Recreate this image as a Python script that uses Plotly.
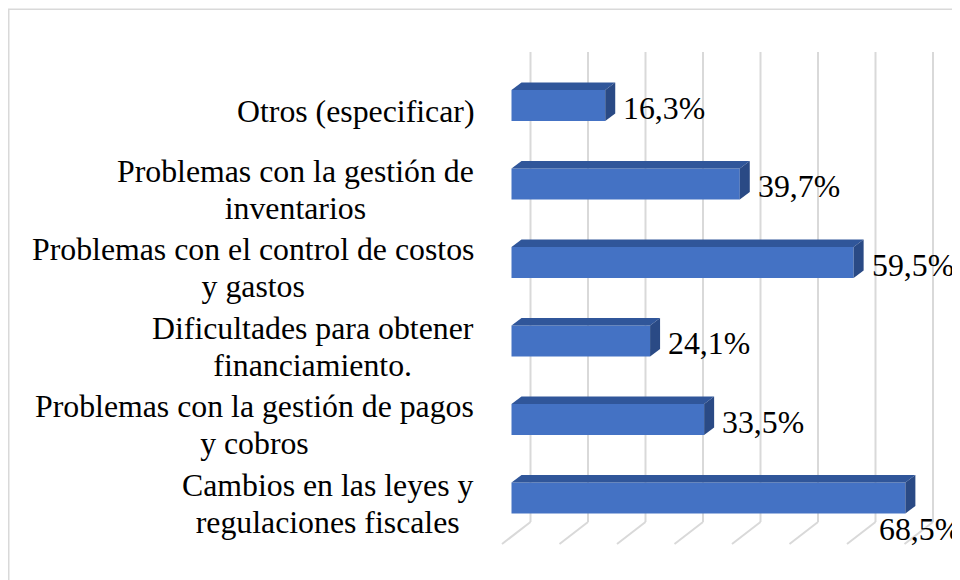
import plotly.graph_objects as go

# ---- data (bottom to top) ----
categories = [
    "Cambios en las leyes y<br>regulaciones fiscales",
    "Problemas con la gestión de pagos<br>y cobros",
    "Dificultades para obtener<br>financiamiento.",
    "Problemas con el control de costos<br>y gastos",
    "Problemas con la gestión de<br>inventarios",
    "Otros (especificar)",
]
values = [68.5, 33.5, 24.1, 59.5, 39.7, 16.3]
value_labels = ["68,5%", "33,5%", "24,1%", "59,5%", "39,7%", "16,3%"]
grid_ticks = [0, 10, 20, 30, 40, 50, 60, 70]

# ---- layout geometry (page pixels; the html body adds an 8px margin) ----
BODY = 8
W, H = 960 - BODY, 580 - BODY
ML, MR, MT, MB = 500 - BODY, 0, 40 - BODY, 30
XMIN, XMAX = -2, 78
PW = W - ML - MR
PH = H - MT - MB
PXX = PW / (XMAX - XMIN)          # px per % unit
YMAX = 5.834
YSPAN = PH / 78.5
YMIN = YMAX - YSPAN
PXY = PH / YSPAN                   # px per category unit

def py_to_y(p):                    # page pixel y -> data y
    return YMAX - (p - BODY - MT) / PXY

def px_to_paper(p):
    return (p - BODY - ML) / PW

def py_to_paper(p):
    return (H - MB - (p - BODY)) / PH

FONT = "Liberation Serif"
FS = 31.8
FRONT = "#4472C4"
TOP = "#30569A"
SIDE = "#2A4A85"
GRID = "#D9D9D9"
BAR_W = 0.395
DX = 10 / PXX                      # bar depth in data units
DY = 7.5 / PXY

idx = list(range(len(categories)))

fig = go.Figure()
fig.add_trace(go.Bar(
    x=values, y=idx, orientation="h", width=BAR_W,
    marker=dict(color=FRONT, line=dict(width=0)),
    hoverinfo="skip", showlegend=False,
))

shapes = []
# back-wall gridlines + floor lines
g_top = py_to_y(52)
g_bot = py_to_y(522)
g_front = py_to_y(544)
for t in grid_ticks:
    shapes.append(dict(type="line", xref="x", yref="y", xsizemode="pixel", xanchor=t,
                       x0=19, x1=19, y0=g_bot, y1=g_top,
                       line=dict(color=GRID, width=2), layer="below"))
    shapes.append(dict(type="line", xref="x", yref="y", xsizemode="pixel", xanchor=t,
                       x0=19, x1=-9.5, y0=g_bot, y1=g_front,
                       line=dict(color=GRID, width=2), layer="below"))

# 3D top and side faces
for i, v in zip(idx, values):
    yt = i + BAR_W / 2
    yb = i - BAR_W / 2
    shapes.append(dict(type="path", xref="x", yref="y",
                       path=f"M 0,{yt} L {v},{yt} L {v+DX},{yt+DY} L {DX},{yt+DY} Z",
                       fillcolor=TOP, line=dict(width=0), layer="above"))
    shapes.append(dict(type="path", xref="x", yref="y",
                       path=f"M {v},{yb} L {v},{yt} L {v+DX},{yt+DY} L {v+DX},{yb+DY} Z",
                       fillcolor=SIDE, line=dict(width=0), layer="above"))

# chart border
shapes.append(dict(type="rect", xref="paper", yref="paper",
                   x0=px_to_paper(BODY + 0.75), x1=px_to_paper(980),
                   y0=py_to_paper(600), y1=py_to_paper(BODY + 1.25),
                   line=dict(color=GRID, width=1.5), fillcolor="rgba(0,0,0,0)", layer="below"))

annotations = []
TRANSP = "<span style='color:rgba(0,0,0,0)'>{}</span>"
LBL_SHIFT = -35.5
for i, cat in zip(idx, categories):
    lines = cat.split("<br>")
    if len(lines) == 1:
        annotations.append(dict(x=0, y=i, xref="x", yref="y", text=cat,
                                xanchor="right", yanchor="middle", xshift=LBL_SHIFT, yshift=-6,
                                showarrow=False, align="center",
                                font=dict(family=FONT, size=FS, color="black")))
    else:
        a = lines[0] + "<br>" + TRANSP.format(lines[1])
        b = TRANSP.format(lines[0]) + "<br>" + lines[1]
        for txt, ys in ((a, -8), (b, -4)):
            annotations.append(dict(x=0, y=i, xref="x", yref="y", text=txt,
                                    xanchor="right", yanchor="middle", xshift=LBL_SHIFT, yshift=ys,
                                    showarrow=False, align="center",
                                    font=dict(family=FONT, size=FS, color="black")))

# value labels
LABEL_W = 80
for i, v, lab in zip(idx, values, value_labels):
    end_px = ML + (v - XMIN) * PXX + 18 + LABEL_W
    if end_px > W:
        annotations.append(dict(x=1, y=i, xref="paper", yref="y", text=lab,
                                xanchor="right", yanchor="middle", xshift=3, yshift=-32,
                                showarrow=False,
                                font=dict(family=FONT, size=FS, color="black")))
    else:
        annotations.append(dict(x=v, y=i, xref="x", yref="y", text=lab,
                                xanchor="left", yanchor="middle", xshift=16, yshift=-3,
                                showarrow=False,
                                font=dict(family=FONT, size=FS, color="black")))

fig.update_layout(
    width=W, height=H,
    margin=dict(l=ML, r=MR, t=MT, b=MB, autoexpand=False),
    paper_bgcolor="white", plot_bgcolor="white",
    xaxis=dict(range=[XMIN, XMAX], visible=False, fixedrange=True),
    yaxis=dict(range=[YMIN, YMAX], visible=False, fixedrange=True),
    shapes=shapes, annotations=annotations,
    showlegend=False,
)

fig.write_html("out.html")
